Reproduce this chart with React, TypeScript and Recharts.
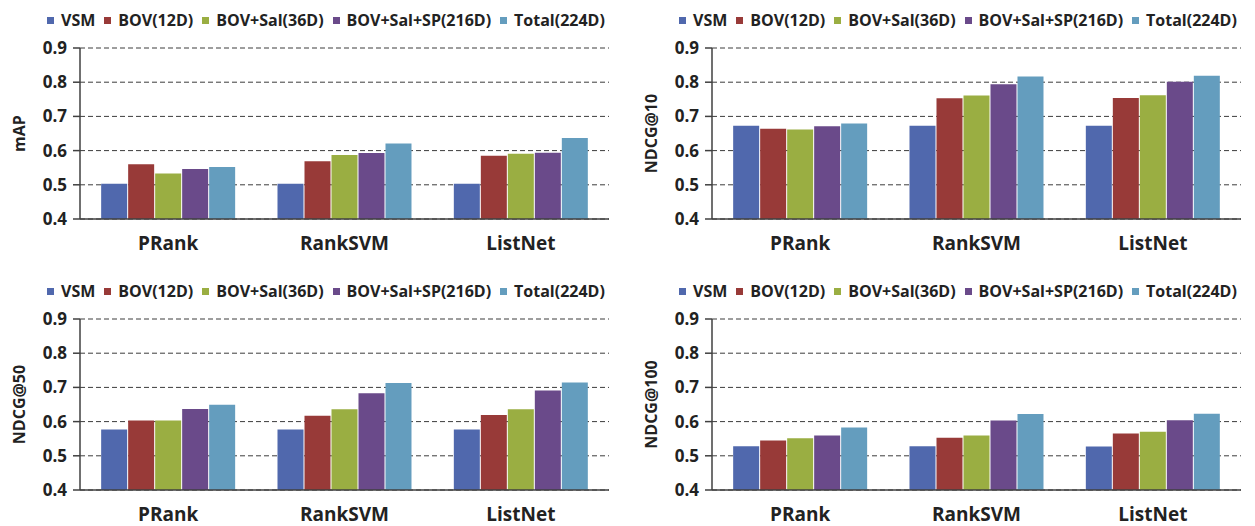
import React from 'react';
import { BarChart, Bar, XAxis, YAxis, CartesianGrid } from 'recharts';

const categories = ['PRank', 'RankSVM', 'ListNet'];
const seriesNames = ['VSM', 'BOV(12D)', 'BOV+Sal(36D)', 'BOV+Sal+SP(216D)', 'Total(224D)'];
const seriesColors = ['#5068AD', '#983A38', '#9AAE42', '#6A4A8A', '#649DBE'];
const yTicks = [0.4, 0.5, 0.6, 0.7, 0.8, 0.9];
const edgeTicks = [0, 1, 2, 3];

// one row per series, one value per category
const mapValues = [
  [0.503, 0.503, 0.503],
  [0.56, 0.569, 0.585],
  [0.533, 0.587, 0.591],
  [0.546, 0.593, 0.594],
  [0.552, 0.621, 0.637],
];
const ndcg10Values = [
  [0.673, 0.673, 0.673],
  [0.664, 0.753, 0.754],
  [0.662, 0.761, 0.762],
  [0.671, 0.794, 0.801],
  [0.679, 0.817, 0.819],
];
const ndcg50Values = [
  [0.577, 0.577, 0.577],
  [0.603, 0.617, 0.619],
  [0.603, 0.636, 0.636],
  [0.637, 0.683, 0.691],
  [0.649, 0.713, 0.714],
];
const ndcg100Values = [
  [0.528, 0.528, 0.527],
  [0.545, 0.553, 0.565],
  [0.551, 0.559, 0.57],
  [0.559, 0.603, 0.604],
  [0.583, 0.622, 0.623],
];

const FONT = '"Open Sans", sans-serif';
const INK = '#222222';
const AXIS = '#404040';

const buildRows = (values: number[][]) =>
  categories.map((name, i) => {
    const row: any = { name };
    values.forEach((s, k) => {
      row[`s${k}`] = s[i];
    });
    return row;
  });

const YLabel = ({ viewBox, text }: any) => {
  const x = viewBox.x + 25;
  const y = viewBox.y + viewBox.height / 2;
  return (
    <text
      x={x}
      y={y}
      transform={`rotate(-90 ${x} ${y})`}
      textAnchor="middle"
      fontFamily={FONT}
      fontWeight="bold"
      fontSize={16}
      fill={INK}
    >
      {text}
    </text>
  );
};

const LegendRow = () => (
  <div
    style={{
      position: 'absolute',
      top: 12,
      left: 47,
      display: 'flex',
      alignItems: 'center',
      height: 16,
      fontFamily: FONT,
      fontWeight: 'bold',
      fontSize: 16,
      lineHeight: '16px',
      color: INK,
      whiteSpace: 'nowrap',
    }}
  >
    {seriesNames.map((n, i) => (
      <div key={n} style={{ display: 'flex', alignItems: 'center', marginRight: 9 }}>
        <span style={{ width: 7, height: 7, background: seriesColors[i], marginRight: 7 }} />
        <span>{n}</span>
      </div>
    ))}
  </div>
);

const Panel: React.FC<{ left: number; top: number; label: string; values: number[][] }> = ({
  left,
  top,
  label,
  values,
}) => {
  const data = buildRows(values);
  return (
    <div style={{ position: 'absolute', left, top, width: 623, height: 263 }}>
      <LegendRow />
      <BarChart
        width={623}
        height={263}
        data={data}
        margin={{ top: 48, right: 14, left: 0, bottom: 0 }}
        barCategoryGap="12%"
        barGap={1}
        style={{ position: 'absolute', left: 0, top: 0 }}
      >
        <CartesianGrid vertical={false} stroke="#3c3c3c" strokeDasharray="5 3" yAxisId="y" xAxisId="b" />
        <YAxis
          yAxisId="y"
          width={80}
          domain={[0.4, 0.9]}
          ticks={yTicks}
          allowDataOverflow
          tickFormatter={(v: number) => v.toFixed(1)}
          tick={{ fontFamily: FONT, fontWeight: 'bold', fontSize: 17, fill: INK }}
          tickSize={7}
          tickMargin={6}
          stroke={AXIS}
          strokeWidth={1.5}
          label={<YLabel text={label} />}
        />
        {/* category boundaries */}
        <XAxis
          xAxisId="a"
          type="number"
          domain={[0, 3]}
          ticks={edgeTicks}
          tick={false}
          tickSize={8}
          height={8}
          stroke={AXIS}
          strokeWidth={1.5}
        />
        <XAxis
          xAxisId="b"
          dataKey="name"
          axisLine={false}
          tickLine={false}
          tickSize={0}
          tickMargin={10}
          height={36}
          tick={{ fontFamily: FONT, fontWeight: 'bold', fontSize: 19, fill: INK }}
        />
        {seriesNames.map((n, k) => (
          <Bar
            key={n}
            xAxisId="b"
            yAxisId="y"
            dataKey={`s${k}`}
            name={n}
            fill={seriesColors[k]}
            isAnimationActive={false}
          />
        ))}
      </BarChart>
    </div>
  );
};

export default function App() {
  return (
    <div style={{ position: 'absolute', left: 0, top: 0, width: 1255, height: 526, background: '#ffffff', overflow: 'hidden' }}>
      <Panel left={0} top={0} label="mAP" values={mapValues} />
      <Panel left={632} top={0} label="NDCG@10" values={ndcg10Values} />
      <Panel left={0} top={271} label="NDCG@50" values={ndcg50Values} />
      <Panel left={632} top={271} label="NDCG@100" values={ndcg100Values} />
    </div>
  );
}
